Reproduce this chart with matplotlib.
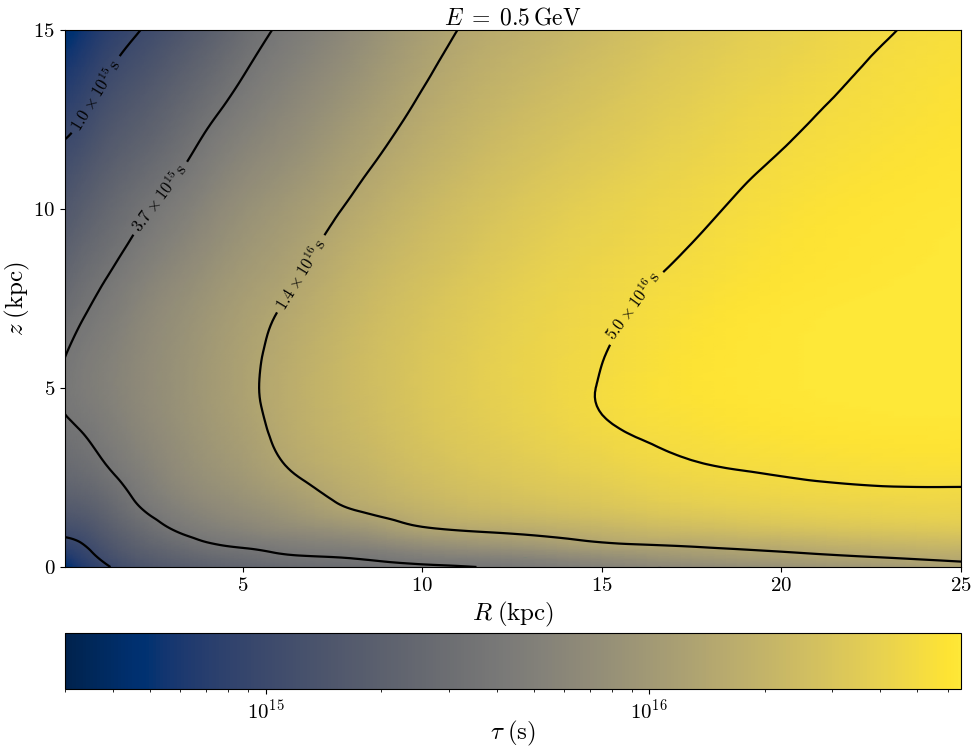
import numpy as np
import matplotlib
matplotlib.use("Agg")
import matplotlib.pyplot as plt
import matplotlib.tri as mtri
from matplotlib.colors import LogNorm

plt.rcParams['mathtext.fontset'] = 'cm'
plt.rcParams['font.family'] = 'serif'
plt.rcParams['font.serif'] = ['cmr10']
plt.rcParams['axes.formatter.use_mathtext'] = True

# grid of the (R, z) plane in kpc
R_kpc = [0.05, 0.5, 1, 2, 3, 4, 5, 6, 8, 10, 12.5, 15, 17.5, 20, 22.5, 25]
z_kpc = [0, 0.25, 0.5, 1, 1.5, 2, 3, 4, 5, 6, 7, 8, 9, 10, 11, 12, 13, 14, 15]

# log10(tau / s), one z-profile per R value
log_tau = [
    [14.64, 14.76, 14.88, 15.05, 15.18, 15.30, 15.45, 15.55, 15.59, 15.56, 15.48, 15.385, 15.285, 15.185, 15.09, 14.995, 14.88, 14.76, 14.64],
    [14.80, 14.88, 14.95, 15.09, 15.22, 15.33, 15.49, 15.585, 15.64, 15.62, 15.555, 15.47, 15.37, 15.265, 15.16, 15.05, 14.94, 14.83, 14.72],
    [14.93, 15.005, 15.07, 15.19, 15.30, 15.40, 15.555, 15.64, 15.69, 15.675, 15.62, 15.545, 15.45, 15.355, 15.25, 15.145, 15.04, 14.93, 14.82],
    [15.12, 15.20, 15.27, 15.39, 15.51, 15.59, 15.70, 15.77, 15.80, 15.79, 15.755, 15.69, 15.60, 15.51, 15.40, 15.29, 15.19, 15.085, 14.98],
    [15.22, 15.31, 15.39, 15.55, 15.66, 15.74, 15.83, 15.88, 15.90, 15.895, 15.87, 15.81, 15.725, 15.64, 15.535, 15.43, 15.33, 15.225, 15.12],
    [15.30, 15.40, 15.50, 15.66, 15.77, 15.85, 15.94, 15.985, 16.00, 15.995, 15.97, 15.92, 15.845, 15.77, 15.68, 15.59, 15.485, 15.38, 15.27],
    [15.36, 15.46, 15.555, 15.73, 15.85, 15.93, 16.03, 16.08, 16.10, 16.095, 16.07, 16.02, 15.955, 15.89, 15.805, 15.72, 15.63, 15.54, 15.45],
    [15.41, 15.52, 15.61, 15.80, 15.93, 16.02, 16.14, 16.185, 16.20, 16.185, 16.155, 16.10, 16.04, 15.98, 15.90, 15.82, 15.745, 15.67, 15.59],
    [15.48, 15.57, 15.68, 15.91, 16.11, 16.21, 16.30, 16.345, 16.36, 16.355, 16.33, 16.29, 16.235, 16.17, 16.10, 16.03, 15.96, 15.89, 15.82],
    [15.53, 15.66, 15.80, 16.09, 16.26, 16.345, 16.43, 16.475, 16.49, 16.485, 16.465, 16.43, 16.385, 16.34, 16.28, 16.22, 16.165, 16.11, 16.06],
    [15.60, 15.73, 15.90, 16.18, 16.36, 16.45, 16.54, 16.59, 16.61, 16.61, 16.595, 16.57, 16.53, 16.49, 16.44, 16.39, 16.34, 16.29, 16.24],
    [15.72, 15.86, 16.03, 16.28, 16.44, 16.53, 16.63, 16.69, 16.705, 16.695, 16.68, 16.66, 16.63, 16.60, 16.555, 16.51, 16.465, 16.42, 16.37],
    [15.82, 15.98, 16.11, 16.36, 16.52, 16.61, 16.70, 16.745, 16.77, 16.765, 16.75, 16.725, 16.70, 16.675, 16.645, 16.61, 16.575, 16.54, 16.50],
    [15.92, 16.06, 16.18, 16.42, 16.57, 16.65, 16.73, 16.78, 16.80, 16.80, 16.795, 16.775, 16.76, 16.74, 16.716, 16.69, 16.665, 16.63, 16.60],
    [16.00, 16.13, 16.25, 16.47, 16.60, 16.67, 16.75, 16.795, 16.812, 16.815, 16.812, 16.80, 16.79, 16.78, 16.76, 16.74, 16.722, 16.705, 16.68],
    [16.08, 16.19, 16.30, 16.51, 16.62, 16.675, 16.76, 16.80, 16.818, 16.822, 16.82, 16.815, 16.81, 16.80, 16.79, 16.775, 16.765, 16.75, 16.74],
]

levels = [1.0e15, 3.7e15, 1.4e16, 5.0e16]
label_pos = [(0.9, 13.2), (2.7, 10.3), (6.6, 8.2), (16.0, 7.2)]
tau_min, tau_max = 3.0e14, 6.5e16

RR, ZZ = np.meshgrid(R_kpc, z_kpc)
L = np.array(log_tau).T
nz, nr = L.shape

# split every grid cell along the same diagonal, then smooth for drawing
cells = []
for j in range(nz - 1):
    for i in range(nr - 1):
        k = j * nr + i
        cells.append([k, k + 1, k + nr + 1])
        cells.append([k, k + nr + 1, k + nr])
tri = mtri.Triangulation(RR.ravel(), ZZ.ravel(), np.array(cells))
interp = mtri.CubicTriInterpolator(tri, L.ravel(), kind='min_E')
tri_f, L_f = mtri.UniformTriRefiner(tri).refine_field(L.ravel(), triinterpolator=interp, subdiv=3)
tau_f = 10**L_f

fig = plt.figure(figsize=(9.74, 7.53), dpi=100)
ax = fig.add_axes([65/974, 1-567/753, 896/974, 537/753])
cax = fig.add_axes([65/974, 1-689/753, 896/974, 56/753])

norm = LogNorm(vmin=tau_min, vmax=tau_max)
im = ax.tripcolor(tri_f, tau_f, shading='gouraud', cmap='cividis', norm=norm)
cs = ax.tricontour(tri_f, tau_f, levels=levels, colors='k', linewidths=1.6)

def fmt(v):
    e = int(np.floor(np.log10(v)))
    return r'$%.1f\times10^{%d}\,\mathrm{s}$' % (v / 10**e, e)

ax.clabel(cs, fmt=fmt, fontsize=12, inline=True, manual=label_pos)

ax.set_xlim(R_kpc[0], 25)
ax.set_ylim(0, 15)
ax.set_xticks([5, 10, 15, 20, 25])
ax.set_yticks([0, 5, 10, 15])
ax.tick_params(labelsize=15)
ax.set_xlabel(r'$R\;(\mathrm{kpc})$', fontsize=18, labelpad=4)
ax.set_ylabel(r'$z\;(\mathrm{kpc})$', fontsize=18, labelpad=1)
ax.set_title(r'$E\;=\;0.5\,\mathrm{GeV}$', fontsize=17, pad=4)

cb = fig.colorbar(im, cax=cax, orientation='horizontal')
cb.ax.tick_params(labelsize=15)
cb.set_label(r'$\tau\;(\mathrm{s})$', fontsize=18, labelpad=-3)

fig.savefig('out.png', dpi=100)
